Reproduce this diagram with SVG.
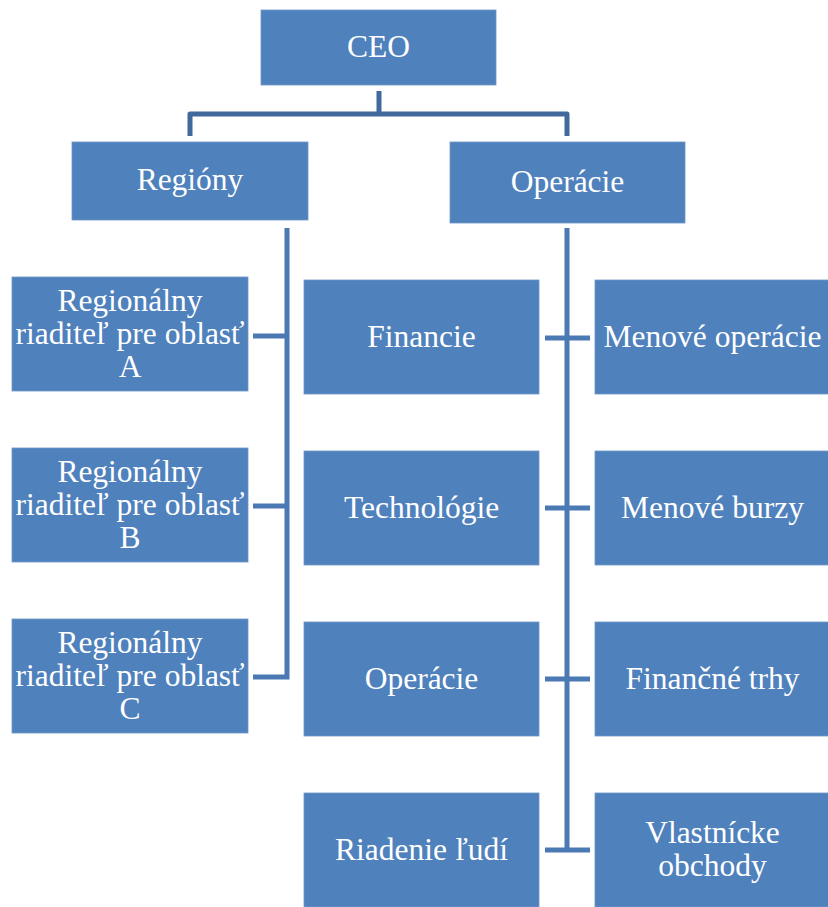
<svg xmlns="http://www.w3.org/2000/svg" width="828" height="907" viewBox="0 0 828 907">
<style>
.box{fill:#4f81bd;stroke:#6f97c9;stroke-width:0.8}
.t{font-family:"Liberation Serif","Times New Roman",serif;font-size:31.5px;fill:#ffffff;text-anchor:middle}
.c1{fill:none;stroke:#41699b;stroke-width:5;stroke-linejoin:round;stroke-linecap:butt}
.c2{fill:none;stroke:#4a79b4;stroke-width:5;stroke-linejoin:miter;stroke-linecap:butt}
</style>
<rect width="828" height="907" fill="#ffffff"/>
<g id="connectors">
<path class="c1" d="M379,91 V114 M190,136 V114 H567 V136"/>
<path class="c2" d="M287,228 V677 H253"/>
<path class="c2" d="M253,336 H287 M253,506 H287"/>
<path class="c2" d="M567,228 V850"/>
<path class="c2" d="M545,338 H590 M545,508 H590 M545,679 H590 M545,850 H590"/>
</g>
<g id="ceo"><rect class="box" x="261" y="10" width="235" height="75"/><text class="t" x="378.5" y="57">CEO</text></g>
<g id="regiony"><rect class="box" x="72" y="142" width="236" height="78"/><text class="t" x="190" y="190">Regióny</text></g>
<g id="operacie-top"><rect class="box" x="450" y="142" width="235" height="81"/><text class="t" x="567.5" y="192">Operácie</text></g>
<g id="reg-a"><rect class="box" x="12" y="277" width="236" height="114"/><text class="t" x="130" y="311">Regionálny</text><text class="t" x="130" y="344">riaditeľ pre oblasť</text><text class="t" x="130" y="377">A</text></g>
<g id="reg-b"><rect class="box" x="12" y="448" width="236" height="114"/><text class="t" x="130" y="482">Regionálny</text><text class="t" x="130" y="515">riaditeľ pre oblasť</text><text class="t" x="130" y="548">B</text></g>
<g id="reg-c"><rect class="box" x="12" y="619" width="236" height="114"/><text class="t" x="130" y="653">Regionálny</text><text class="t" x="130" y="686">riaditeľ pre oblasť</text><text class="t" x="130" y="719">C</text></g>
<g id="financie"><rect class="box" x="304" y="280" width="235" height="114"/><text class="t" x="421.5" y="347">Financie</text></g>
<g id="technologie"><rect class="box" x="304" y="451" width="235" height="114"/><text class="t" x="421.5" y="518">Technológie</text></g>
<g id="operacie"><rect class="box" x="304" y="622" width="235" height="114"/><text class="t" x="421.5" y="689">Operácie</text></g>
<g id="riadenie"><rect class="box" x="304" y="793" width="235" height="114"/><text class="t" x="421.5" y="860">Riadenie ľudí</text></g>
<g id="menove-operacie"><rect class="box" x="595" y="280" width="235" height="114"/><text class="t" x="712.5" y="347">Menové operácie</text></g>
<g id="menove-burzy"><rect class="box" x="595" y="451" width="235" height="114"/><text class="t" x="712.5" y="518">Menové burzy</text></g>
<g id="financne-trhy"><rect class="box" x="595" y="622" width="235" height="114"/><text class="t" x="712.5" y="689">Finančné trhy</text></g>
<g id="vlastnicke"><rect class="box" x="595" y="793" width="235" height="114"/><text class="t" x="712.5" y="843">Vlastnícke</text><text class="t" x="712.5" y="876">obchody</text></g>
</svg>
